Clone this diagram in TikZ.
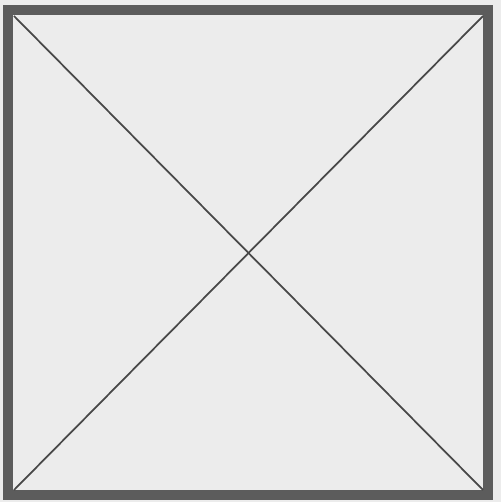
\documentclass[tikz,border=0pt]{standalone}
\usepackage{tikz}
\definecolor{paper}{RGB}{236, 236, 236}
\definecolor{frameink}{RGB}{92, 92, 92}
\definecolor{crossink}{RGB}{72, 72, 72}

\begin{document}
\begin{tikzpicture}[
    x=0.02cm, y=-0.02cm,
    frame/.style={line width=0.2cm, frameink, fill=paper},
    diagonal/.style={line width=0.035cm, crossink}
]

    % Page
    \fill[paper] (0,0) rectangle (501,502);
    \useasboundingbox (0,0) rectangle (501,502);

    % Corners of the square
    \coordinate (nw) at (8,10);
    \coordinate (se) at (488,495);
    \coordinate (inw) at (14,16);
    \coordinate (ine) at (483,16);
    \coordinate (isw) at (14,490);
    \coordinate (ise) at (483,490);

    % Square and diagonals
    \draw[frame] (nw) rectangle (se);
    \draw[diagonal] (inw) -- (ise);
    \draw[diagonal] (ine) -- (isw);

\end{tikzpicture}
\end{document}
